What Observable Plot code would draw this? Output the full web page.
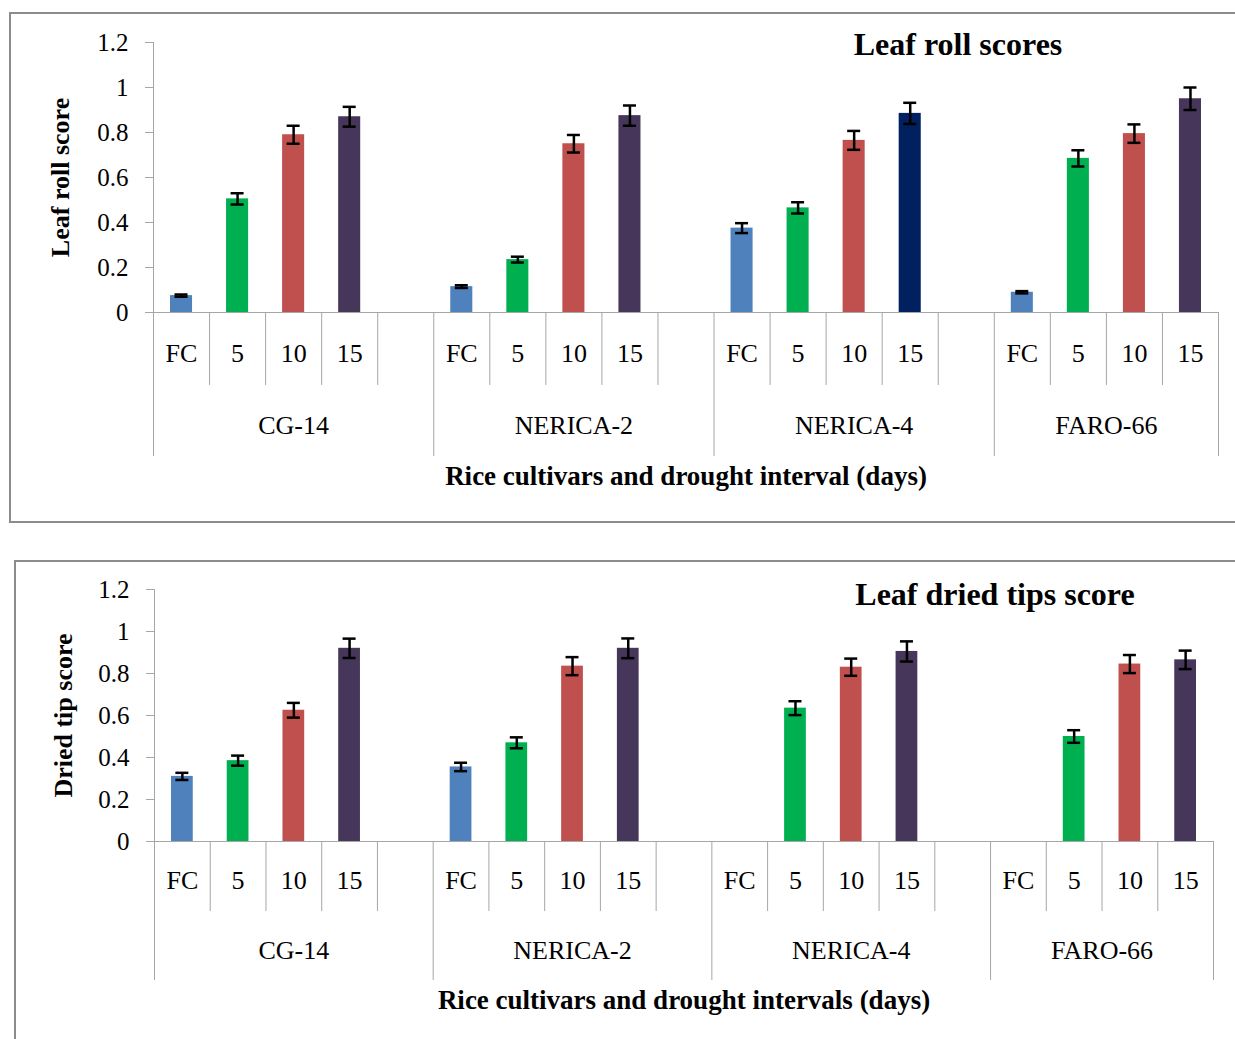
<!DOCTYPE html>
<html><head><meta charset="utf-8">
<script src="https://cdn.jsdelivr.net/npm/d3@7"></script>
<script src="https://cdn.jsdelivr.net/npm/@observablehq/plot@0.6"></script>
<style>
html,body{margin:0;padding:0;background:#fff;}
#page{position:relative;width:1235px;height:1039px;overflow:hidden;font-family:"Liberation Serif","Times New Roman",serif;}
.frame{position:absolute;border:2px solid #8c8c8c;box-sizing:border-box;}
#f1{left:9px;top:12px;width:1260px;height:511px;}
#f2{left:14px;top:560px;width:1260px;height:520px;}
.chart{position:absolute;left:0;}
#c1{top:0px;}
#c2{top:540px;}
svg text{font-family:"Liberation Serif","Times New Roman",serif !important;}
</style></head><body>
<div id="page"><div class="frame" id="f1"></div><div class="frame" id="f2"></div><div class="chart" id="c1"></div><div class="chart" id="c2"></div></div>
<script>
// ---- data ----
const cultivars = ["CG-14", "NERICA-2", "NERICA-4", "FARO-66"];
const intervals = ["FC", "5", "10", "15"];
const groupSlots = [5, 5, 5, 4];           // category slots per cultivar (incl. Excel blank slot)
const yTicks = [0, 0.2, 0.4, 0.6, 0.8, 1, 1.2];
const intervalColors = ["#4F81BD", "#00B050", "#C0504D", "#46365A"];
const navyColor = "#002060";
const navyBar = ["NERICA-4", "15"];        // leaf roll bar drawn in navy

const leafRoll = [
  [0.075, 0.505, 0.79, 0.87],
  [0.115, 0.235, 0.75, 0.875],
  [0.375, 0.465, 0.765, 0.885],
  [0.09, 0.685, 0.795, 0.95]
];
const leafRollErr = [
  [0.005, 0.025, 0.04, 0.044],
  [0.006, 0.013, 0.039, 0.045],
  [0.022, 0.025, 0.042, 0.047],
  [0.005, 0.036, 0.041, 0.05]
];
const driedTip = [
  [0.31, 0.385, 0.625, 0.92],
  [0.355, 0.47, 0.835, 0.92],
  [null, 0.635, 0.83, 0.905],
  [null, 0.5, 0.845, 0.865]
];
const driedTipErr = [
  [0.017, 0.024, 0.035, 0.046],
  [0.02, 0.026, 0.043, 0.047],
  [null, 0.033, 0.041, 0.048],
  [null, 0.03, 0.043, 0.044]
];

const gray = "#a6a6a6";
const font = "Liberation Serif";

function buildRows(values, errors, useNavy) {
  const rows = [], groupStarts = [];
  let start = 0;
  cultivars.forEach((c, g) => {
    groupStarts.push(start);
    intervals.forEach((iv, j) => {
      const v = values[g][j];
      if (v == null) return;
      const isNavy = useNavy && c === navyBar[0] && iv === navyBar[1];
      rows.push({cultivar: c, interval: iv, i: start + j, v, e: errors[g][j], fill: isNavy ? navyColor : intervalColors[j]});
    });
    start += groupSlots[g];
  });
  return {rows, groupStarts, total: start};
}

function panel(cfg) {
  const {rows, groupStarts, total} = buildRows(cfg.values, cfg.errors, cfg.navy);
  const bounds = d3.range(total + 1);
  const groupBounds = [...groupStarts, total];
  const shortBounds = bounds.filter(b => !groupBounds.includes(b));
  const centerLabel = new Map();
  groupStarts.forEach(s => intervals.forEach((iv, j) => centerLabel.set(s + j + 0.5, iv)));
  const groupCenter = new Map();
  groupStarts.forEach((s, g) => groupCenter.set(s + groupSlots[g] / 2, cultivars[g]));
  const withErr = rows.filter(d => d.e > 0);
  return Plot.plot({
    width: 1235,
    height: cfg.height,
    marginTop: cfg.marginTop,
    marginBottom: cfg.marginBottom,
    marginLeft: cfg.marginLeft,
    marginRight: cfg.marginRight,
    style: {fontFamily: font, color: "black", background: "transparent", overflow: "visible"},
    x: {domain: [0, total]},
    y: {domain: [0, 1.2]},
    marks: [
      Plot.ruleY([0], {stroke: gray}),
      Plot.ruleX([0], {stroke: gray}),
      Plot.axisY({ticks: yTicks, tickSize: 8, tickPadding: 17, fontSize: 25, fontFamily: font, stroke: gray, color: "black", label: null, tickFormat: d => String(d)}),
      Plot.axisX({ticks: shortBounds, tickSize: cfg.shortTick, tickFormat: () => "", stroke: gray, label: null}),
      Plot.axisX({ticks: groupBounds, tickSize: cfg.longTick, tickFormat: () => "", stroke: gray, label: null}),
      Plot.axisX({ticks: [...centerLabel.keys()], tickSize: 0, tickPadding: cfg.intervalPad, fontSize: 26, fontFamily: font, color: "black", label: null, tickFormat: d => centerLabel.get(d)}),
      Plot.axisX({ticks: [...groupCenter.keys()], tickSize: 0, tickPadding: cfg.groupPad, fontSize: 26, fontFamily: font, color: "black", label: null, tickFormat: d => groupCenter.get(d)}),
      Plot.rectY(rows, {x1: "i", x2: d => d.i + 1, y1: () => 0, y2: "v", fill: "fill", insetLeft: 17, insetRight: 17}),
      Plot.ruleX(withErr, {x: d => d.i + 0.5, y1: d => d.v - d.e, y2: d => d.v + d.e, stroke: "black", strokeWidth: 2.5}),
      Plot.ruleY(withErr, {y: d => d.v + d.e, x1: d => d.i + 0.5, x2: d => d.i + 0.5, insetLeft: -6.5, insetRight: -6.5, stroke: "black", strokeWidth: 2.5}),
      Plot.ruleY(withErr, {y: d => d.v - d.e, x1: d => d.i + 0.5, x2: d => d.i + 0.5, insetLeft: -6.5, insetRight: -6.5, stroke: "black", strokeWidth: 2.5}),
      Plot.text([cfg.title], {text: d => d, frameAnchor: "top", lineAnchor: "top", dx: cfg.titleDx, dy: cfg.titleDy, fontSize: 32, fontFamily: font, fontWeight: "bold", fill: "black"}),
      Plot.text([cfg.yLabel], {text: d => d, frameAnchor: "left", rotate: -90, textAnchor: "middle", lineAnchor: "middle", dx: cfg.yLabelDx, fontSize: 26, fontFamily: font, fontWeight: "bold", fill: "black"}),
      Plot.text([cfg.xLabel], {text: d => d, frameAnchor: "bottom", lineAnchor: "middle", dy: cfg.xLabelDy, fontSize: 27, fontFamily: font, fontWeight: "bold", fill: "black"})
    ]
  });
}

document.getElementById("c1").append(panel({
  values: leafRoll, errors: leafRollErr, navy: true,
  height: 522, marginTop: 42, marginBottom: 210, marginLeft: 153, marginRight: 17,
  shortTick: 73, longTick: 144, intervalPad: 31, groupPad: 103,
  title: "Leaf roll scores", titleDx: 272, titleDy: -10,
  yLabel: "Leaf roll score", yLabelDx: -93,
  xLabel: "Rice cultivars and drought interval (days)", xLabelDy: 164
}));

document.getElementById("c2").append(panel({
  values: driedTip, errors: driedTipErr, navy: false,
  height: 499, marginTop: 49, marginBottom: 198, marginLeft: 154, marginRight: 22,
  shortTick: 70, longTick: 139, intervalPad: 29, groupPad: 99,
  title: "Leaf dried tips score", titleDx: 311, titleDy: -7,
  yLabel: "Dried tip score", yLabelDx: -91,
  xLabel: "Rice cultivars and drought intervals (days)", xLabelDy: 159
}));
</script>
</body></html>
